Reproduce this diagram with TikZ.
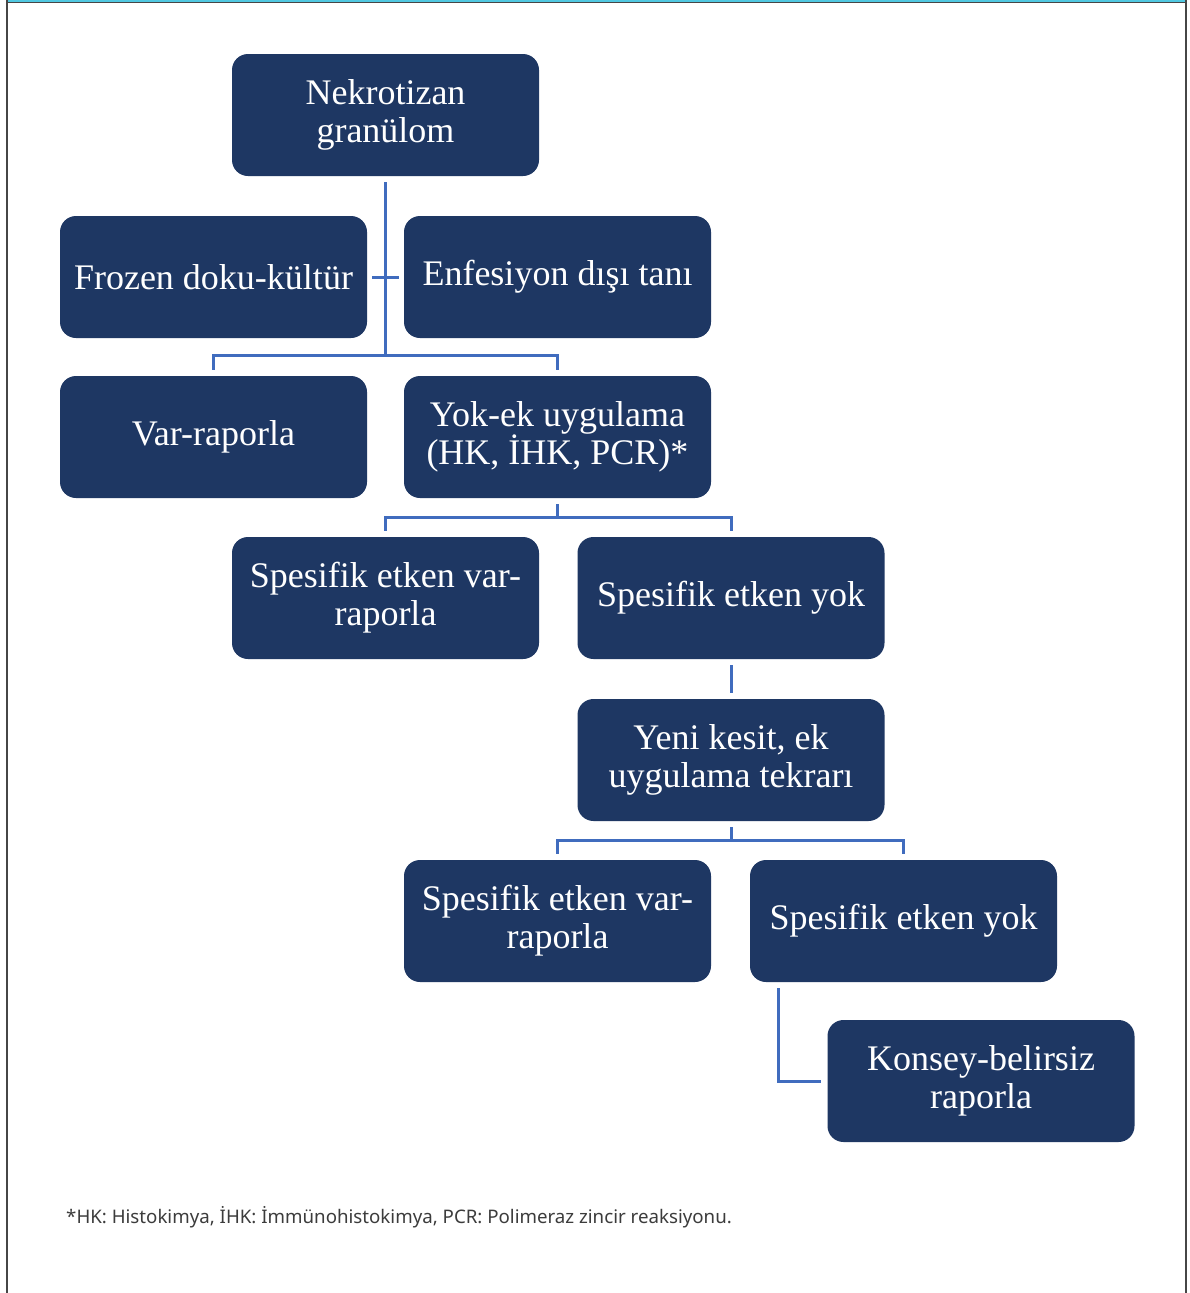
\documentclass[tikz,border=0pt]{standalone}
\usepackage{fontspec}
\setmainfont{Liberation Serif}
\newfontfamily\footfont{Noto Sans}
\definecolor{boxfill}{RGB}{30,55,99}
\definecolor{connc}{RGB}{64,108,190}
\definecolor{framec}{RGB}{70,70,70}
\definecolor{topc}{RGB}{80,200,225}
\definecolor{footc}{RGB}{60,60,60}
\begin{document}
\begin{tikzpicture}[x=1pt,y=-1pt,
  box/.style={draw=none,fill=boxfill,rounded corners=16pt,minimum width=307pt,minimum height=122pt,
    text=white,align=center,font=\fontsize{36}{38}\selectfont,inner sep=0pt},
  conn/.style={draw=connc,line width=3pt}]
\useasboundingbox (0,0) rectangle (1189,1293);
\fill[white] (0,0) rectangle (1189,1293);
% frame
\fill[topc] (7,0) rectangle (1186,2);
\draw[framec,line width=1pt] (7,2.5) -- (1186,2.5);
\draw[framec,line width=2pt] (7,0) -- (7,1293);
\draw[framec,line width=2pt] (1186,0) -- (1186,1293);
% nodes
\node[box] (nek) at (385.5,115) {Nekrotizan\\granülom};
\node[box] (froz) at (213.5,277) {Frozen doku-kültür};
\node[box] (enf) at (557.5,277) {Enfesiyon dışı tanı};
\node[box] (var) at (213.5,437) {Var-raporla};
\node[box] (yok) at (557.5,437) {Yok-ek uygulama\\(HK, İHK, PCR)*};
\node[box] (sv1) at (385.5,598) {Spesifik etken var-\\raporla};
\node[box] (sy1) at (731,598) {Spesifik etken yok};
\node[box] (yeni) at (731,760) {Yeni kesit, ek\\uygulama tekrarı};
\node[box] (sv2) at (557.5,921) {Spesifik etken var-\\raporla};
\node[box] (sy2) at (903.5,921) {Spesifik etken yok};
\node[box] (kon) at (981,1081) {Konsey-belirsiz\\raporla};
% connectors
\draw[conn] ([yshift=-6pt]nek.south) -- (nek.south |- 0,355);
\draw[conn] ([xshift=5pt]froz.east) -- ([xshift=-5pt]enf.west);
\draw[conn] ([yshift=6pt]var.north) |- (nek.south |- 0,355) -| ([yshift=6pt]yok.north);
\draw[conn] ([yshift=-6pt]yok.south) -- ([yshift=-19pt]yok.south);
\draw[conn] ([yshift=6pt]sv1.north) |- ([yshift=-19pt]yok.south) -| ([yshift=6pt]sy1.north);
\draw[conn] ([yshift=-6pt]sy1.south) -- ([yshift=6pt]yeni.north);
\draw[conn] ([yshift=-6pt]yeni.south) -- ([yshift=-19pt]yeni.south);
\draw[conn] ([yshift=6pt]sv2.north) |- ([yshift=-19pt]yeni.south) -| ([yshift=6pt]sy2.north);
\draw[conn] ([xshift=29pt,yshift=-6pt]sy2.south west) |- ([xshift=-6pt]kon.west);
% footnote
\node[anchor=west,inner sep=0pt,text=footc,font=\footfont\fontsize{18.7}{22}\selectfont] (foot) at (66,1217) {*HK: Histokimya, İHK: İmmünohistokimya, PCR: Polimeraz zincir reaksiyonu.};
\end{tikzpicture}
\end{document}
